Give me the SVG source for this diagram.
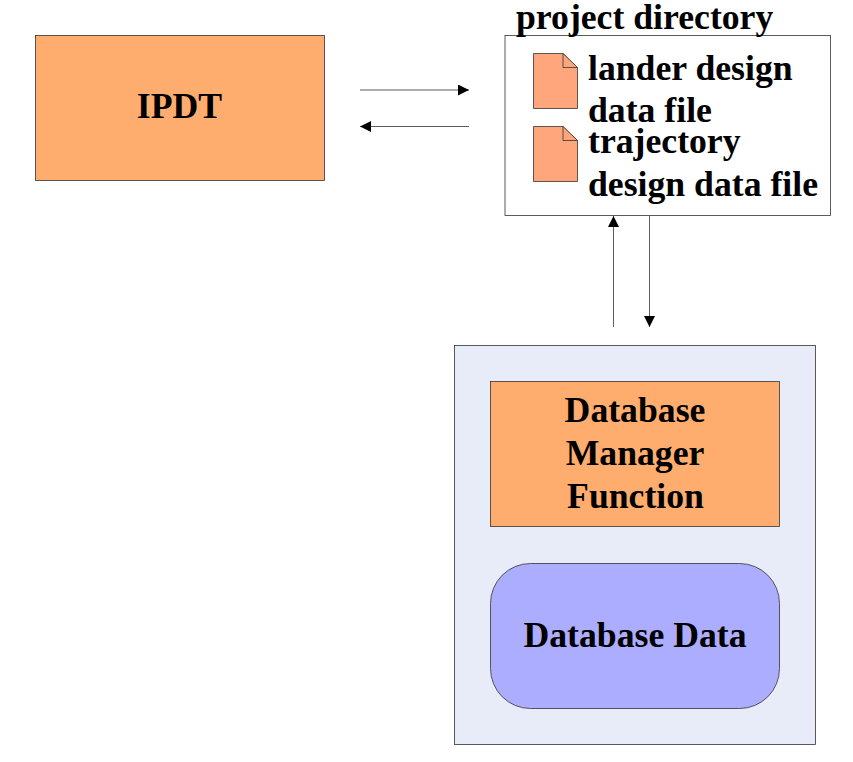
<svg xmlns="http://www.w3.org/2000/svg" width="853" height="762" viewBox="0 0 853 762">
<defs><marker id="a" viewBox="0 0 10 10" refX="10" refY="5" markerWidth="11" markerHeight="11" markerUnits="userSpaceOnUse" orient="auto"><path d="M0 0L10 5L0 10Z" fill="#000"/></marker></defs>
<style>
text{font-family:"Liberation Serif","Times New Roman",serif;font-weight:bold;font-size:35.7px;fill:#000}
.o{fill:#ffad6f;stroke:#333;stroke-width:.8}
.f{fill:#ffa67c;stroke:#333;stroke-width:.8}
.c{stroke:#333;stroke-width:.8;fill:none;marker-end:url(#a)}
</style>
<rect width="853" height="762" fill="#fff"/>
<g id="ipdt"><rect class="o" x="35.500" y="35.500" width="289" height="145"/><text x="179.500" y="118" text-anchor="middle">IPDT</text></g>
<g id="project-directory"><rect x="505" y="35.500" width="325.500" height="180" fill="#fff" stroke="#333" stroke-width=".8"/><text x="516" y="29">project directory</text></g>
<g id="lander-file"><path class="f" d="M533.500 53.500H563L577.500 68V108.500H533.500Z"/><path class="f" d="M563 53.500V67.500H577.500Z"/><text x="588" y="80">lander design</text><text x="588" y="122">data file</text></g>
<g id="trajectory-file"><path class="f" d="M533.500 126.500H563L577.500 141V181.500H533.500Z"/><path class="f" d="M563 126.500V140.500H577.500Z"/><text x="588" y="153">trajectory</text><text x="588" y="196">design data file</text></g>
<g id="database-container"><rect x="454.500" y="345.500" width="361" height="399" fill="#e8ecf8" stroke="#333" stroke-width=".8"/></g>
<g id="database-manager"><rect class="o" x="490.500" y="381.500" width="289" height="145"/><text x="635" y="422" text-anchor="middle">Database</text><text x="635" y="465" text-anchor="middle">Manager</text><text x="635.500" y="508" text-anchor="middle">Function</text></g>
<g id="database-data"><rect x="490.500" y="563.500" width="289" height="145" rx="40" fill="#adadff" stroke="#333" stroke-width=".8"/><text x="635" y="647" text-anchor="middle">Database Data</text></g>
<g id="connectors"><path class="c" d="M360 90H469"/><path class="c" d="M469 126.500H360"/><path class="c" d="M613.500 327V216"/><path class="c" d="M649.500 216V327"/></g>
</svg>
